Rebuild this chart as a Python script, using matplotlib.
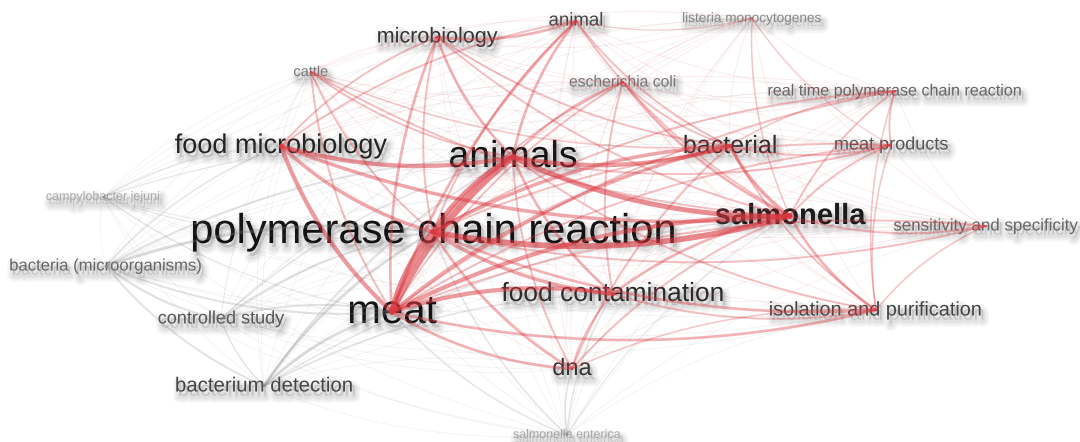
import itertools
import matplotlib
matplotlib.use("Agg")
import matplotlib.pyplot as plt
import matplotlib.patheffects as pe
import numpy as np

plt.rcParams['font.family'] = ['Liberation Sans', 'DejaVu Sans']

# keywords, layout position (map units), label size, label grey, cluster
terms = ['microbiology', 'animal', 'listeria monocytogenes', 'cattle', 'escherichia coli',
         'real time polymerase chain reaction', 'food microbiology', 'animals', 'bacterial',
         'meat products', 'campylobacter jejuni', 'polymerase chain reaction', 'salmonella',
         'sensitivity and specificity', 'bacteria (microorganisms)', 'food contamination',
         'meat', 'controlled study', 'isolation and purification', 'dna',
         'bacterium detection', 'salmonella enterica']
pos_x = [437, 576, 752, 311, 623, 895, 281, 513, 730, 891, 103, 433, 790, 986, 106, 613,
         392, 221, 876, 572, 264, 567]
pos_y = [37, 21, 18, 72, 82, 91, 146, 157, 146, 145, 197, 232, 216, 226, 266, 294,
         312, 319, 310, 369, 386, 435]
label_size = [15.5, 13.4, 9.8, 10.5, 11.3, 11.6, 19.5, 27, 18, 13, 9, 30, 21, 12.2, 12,
              19, 29, 13, 14.3, 17, 14.7, 9]
label_grey = ['#333333', '#444444', '#8a8a8a', '#7a7a7a', '#777777', '#666666', '#222222',
              '#111111', '#2a2a2a', '#555555', '#aaaaaa', '#111111', '#1a1a1a', '#666666',
              '#666666', '#2a2a2a', '#111111', '#555555', '#444444', '#333333', '#444444',
              '#aaaaaa']
cluster = ['red', 'red', 'red', 'red', 'red', 'red', 'red', 'red', 'red', 'red', 'grey',
           'red', 'red', 'red', 'grey', 'red', 'red', 'grey', 'red', 'red', 'grey', 'grey']

# co-occurrence links (estimated strength); all other pairs are weak links
links = [
    ('meat', 'animals', 8), ('polymerase chain reaction', 'meat', 7),
    ('polymerase chain reaction', 'salmonella', 7), ('polymerase chain reaction', 'animals', 6),
    ('animals', 'salmonella', 6), ('food microbiology', 'animals', 5),
    ('food microbiology', 'meat', 5), ('food microbiology', 'polymerase chain reaction', 4),
    ('food microbiology', 'salmonella', 4), ('meat', 'salmonella', 5),
    ('meat', 'food contamination', 5), ('polymerase chain reaction', 'food contamination', 4),
    ('animals', 'bacterial', 5), ('bacterial', 'salmonella', 4), ('bacterial', 'meat', 4),
    ('bacterial', 'polymerase chain reaction', 4), ('food contamination', 'salmonella', 3),
    ('food contamination', 'animals', 3), ('microbiology', 'animal', 3),
    ('microbiology', 'meat', 3), ('microbiology', 'animals', 3),
    ('microbiology', 'polymerase chain reaction', 2), ('microbiology', 'salmonella', 2),
    ('microbiology', 'food microbiology', 2), ('microbiology', 'bacterial', 2),
    ('animal', 'animals', 3), ('animal', 'meat', 3), ('animal', 'salmonella', 2),
    ('animal', 'polymerase chain reaction', 2), ('animal', 'bacterial', 2),
    ('animal', 'food microbiology', 2), ('cattle', 'animals', 2), ('cattle', 'salmonella', 2),
    ('cattle', 'meat', 2), ('cattle', 'polymerase chain reaction', 2), ('cattle', 'bacterial', 1.5),
    ('escherichia coli', 'salmonella', 3), ('escherichia coli', 'bacterial', 2),
    ('escherichia coli', 'animals', 2), ('escherichia coli', 'polymerase chain reaction', 2),
    ('escherichia coli', 'meat', 2), ('escherichia coli', 'food contamination', 2),
    ('real time polymerase chain reaction', 'salmonella', 2),
    ('real time polymerase chain reaction', 'meat products', 2),
    ('real time polymerase chain reaction', 'polymerase chain reaction', 2),
    ('real time polymerase chain reaction', 'meat', 2),
    ('real time polymerase chain reaction', 'bacterial', 1.5),
    ('real time polymerase chain reaction', 'isolation and purification', 1.5),
    ('meat products', 'salmonella', 2), ('meat products', 'bacterial', 2),
    ('meat products', 'animals', 2), ('meat products', 'polymerase chain reaction', 2),
    ('meat products', 'meat', 2), ('meat products', 'isolation and purification', 1.5),
    ('sensitivity and specificity', 'salmonella', 2),
    ('sensitivity and specificity', 'polymerase chain reaction', 2),
    ('sensitivity and specificity', 'meat', 2),
    ('sensitivity and specificity', 'isolation and purification', 1.5),
    ('isolation and purification', 'salmonella', 3), ('isolation and purification', 'meat', 3),
    ('isolation and purification', 'polymerase chain reaction', 3),
    ('isolation and purification', 'animals', 2), ('isolation and purification', 'bacterial', 2),
    ('isolation and purification', 'food contamination', 2),
    ('dna', 'meat', 3), ('dna', 'polymerase chain reaction', 3), ('dna', 'animals', 2),
    ('dna', 'salmonella', 2), ('dna', 'food contamination', 2), ('dna', 'bacterial', 2),
    ('dna', 'isolation and purification', 1.5),
    ('listeria monocytogenes', 'salmonella', 1.5), ('listeria monocytogenes', 'meat products', 1),
    ('listeria monocytogenes', 'animal', 1),
    ('bacteria (microorganisms)', 'polymerase chain reaction', 3),
    ('bacteria (microorganisms)', 'meat', 2), ('bacteria (microorganisms)', 'controlled study', 2),
    ('bacteria (microorganisms)', 'bacterium detection', 2),
    ('bacteria (microorganisms)', 'animals', 2),
    ('bacteria (microorganisms)', 'food microbiology', 1.5),
    ('controlled study', 'meat', 2), ('controlled study', 'polymerase chain reaction', 2),
    ('controlled study', 'bacterium detection', 1.5), ('controlled study', 'animals', 1.5),
    ('bacterium detection', 'meat', 3), ('bacterium detection', 'polymerase chain reaction', 3),
    ('bacterium detection', 'animals', 2), ('bacterium detection', 'food contamination', 1.5),
    ('bacterium detection', 'salmonella', 1.5),
    ('campylobacter jejuni', 'polymerase chain reaction', 1), ('campylobacter jejuni', 'meat', 1),
    ('campylobacter jejuni', 'food microbiology', 1),
    ('salmonella enterica', 'dna', 1.5), ('salmonella enterica', 'meat', 1.5),
    ('salmonella enterica', 'polymerase chain reaction', 1.5), ('salmonella enterica', 'salmonella', 1),
    ('salmonella enterica', 'food contamination', 1.5),
]
weak_weight = 0.3

RED = (0.86, 0.22, 0.25)
GREY = (0.5, 0.5, 0.5)


def curve(p0, p2, bend=0.12, n=40):
    p0, p2 = np.asarray(p0, float), np.asarray(p2, float)
    d = p2 - p0
    ctrl = (p0 + p2) / 2 + bend * np.array([-d[1], d[0]])
    t = np.linspace(0, 1, n)[:, None]
    return (1 - t) ** 2 * p0 + 2 * (1 - t) * t * ctrl + t ** 2 * p2


idx = {name: i for i, name in enumerate(terms)}
weights = {}
for a, b in itertools.combinations(range(len(terms)), 2):
    weights[(a, b)] = weak_weight
for a, b, w in links:
    i, j = idx[a], idx[b]
    weights[(min(i, j), max(i, j))] = w

fig = plt.figure(figsize=(10.8, 4.42), dpi=100)
ax = fig.add_axes([0, 0, 1, 1])
ax.set_xlim(0, 1080)
ax.set_ylim(442, 0)
ax.axis('off')

for (i, j), w in sorted(weights.items(), key=lambda kv: kv[1]):
    is_red = cluster[i] == 'red' and cluster[j] == 'red'
    c = RED if is_red else GREY
    pts = curve((pos_x[i], pos_y[i]), (pos_x[j], pos_y[j]))
    if w <= weak_weight:
        lw, alpha = 0.5, 0.12
    else:
        lw, alpha = 0.3 + 0.55 * w, min(0.2 + 0.06 * w, 0.6)
        if not is_red:
            alpha *= 0.7
    ax.plot(pts[:, 0], pts[:, 1], color=c, lw=lw, alpha=alpha, solid_capstyle='round', zorder=3)

# soft drop shadow under the labels
shadow = [pe.SimpleLineShadow(offset=(2, -4), shadow_color='k', alpha=0.04, linewidth=lw)
          for lw in (8, 5, 2.5)]
shadow += [pe.SimplePatchShadow(offset=(2, -3), shadow_rgbFace='k', alpha=0.12), pe.Normal()]
for k, name in enumerate(terms):
    ax.text(pos_x[k], pos_y[k], name, fontsize=label_size[k], color=label_grey[k],
            ha='center', va='center',
            fontweight='bold' if name == 'salmonella' else 'normal',
            path_effects=shadow, zorder=2)

fig.savefig('out.png', dpi=100, facecolor='white')
